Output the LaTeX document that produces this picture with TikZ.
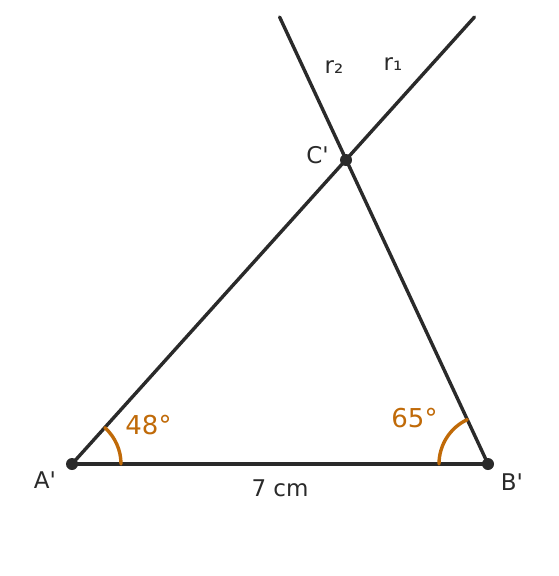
\documentclass[tikz,border=0pt]{standalone}
\usepackage{fontspec}
\setmainfont{DejaVu Sans}
\definecolor{inkdark}{RGB}{42, 42, 42}
\definecolor{angleorange}{RGB}{192, 106, 8}
\usetikzlibrary{calc}

\begin{document}
\begin{tikzpicture}[x=1pt, y=-1pt, line width=3.4pt, line cap=round]
  \useasboundingbox (0,0) rectangle (559,576);
  \tikzset{
    lbl/.style={font=\fontsize{23}{27}\selectfont, text=inkdark, inner sep=0pt},
    anglbl/.style={font=\fontsize{26}{30}\selectfont, text=angleorange, inner sep=0pt},
    vertex/.style={circle, fill=inkdark, inner sep=0pt, minimum size=12pt}
  }

  % Triangle corners and ray ends
  \coordinate (A) at (72,464);
  \coordinate (B) at (488,464);
  \coordinate (C) at (346,160);
  \coordinate (r1end) at (474.5,17);
  \coordinate (r2end) at (279.6,17);

  % Base and rays
  \draw[inkdark] (A) -- (B);
  \draw[inkdark] (A) -- (r1end);
  \draw[inkdark] (B) -- (r2end);

  % Angle arcs
  \draw[angleorange] ($(A)+(49,0)$) arc (0:-48:49);
  \draw[angleorange] ($(B)+(-49,0)$) arc (180:245:49);

  % Points
  \node[vertex] (Ap) at (A) {};
  \node[vertex] (Bp) at (B) {};
  \node[vertex] (Cp) at (C) {};

  % Labels
  \node[lbl] (labA) at (45,480.5) {A\textquotesingle};
  \node[lbl] (labB) at (512,482.5) {B\textquotesingle};
  \node[lbl] (labC) at (317.5,155) {C\textquotesingle};
  \node[lbl, anchor=base west] (labr2) at (323,73.3) {r₂};
  \node[lbl, anchor=base west] (labr1) at (382,70) {r₁};
  \node[lbl] (base) at (280,488) {7 cm};
  \node[anglbl] (angA) at (148.5,425) {48°};
  \node[anglbl] (angB) at (414.5,418) {65°};
\end{tikzpicture}
\end{document}
